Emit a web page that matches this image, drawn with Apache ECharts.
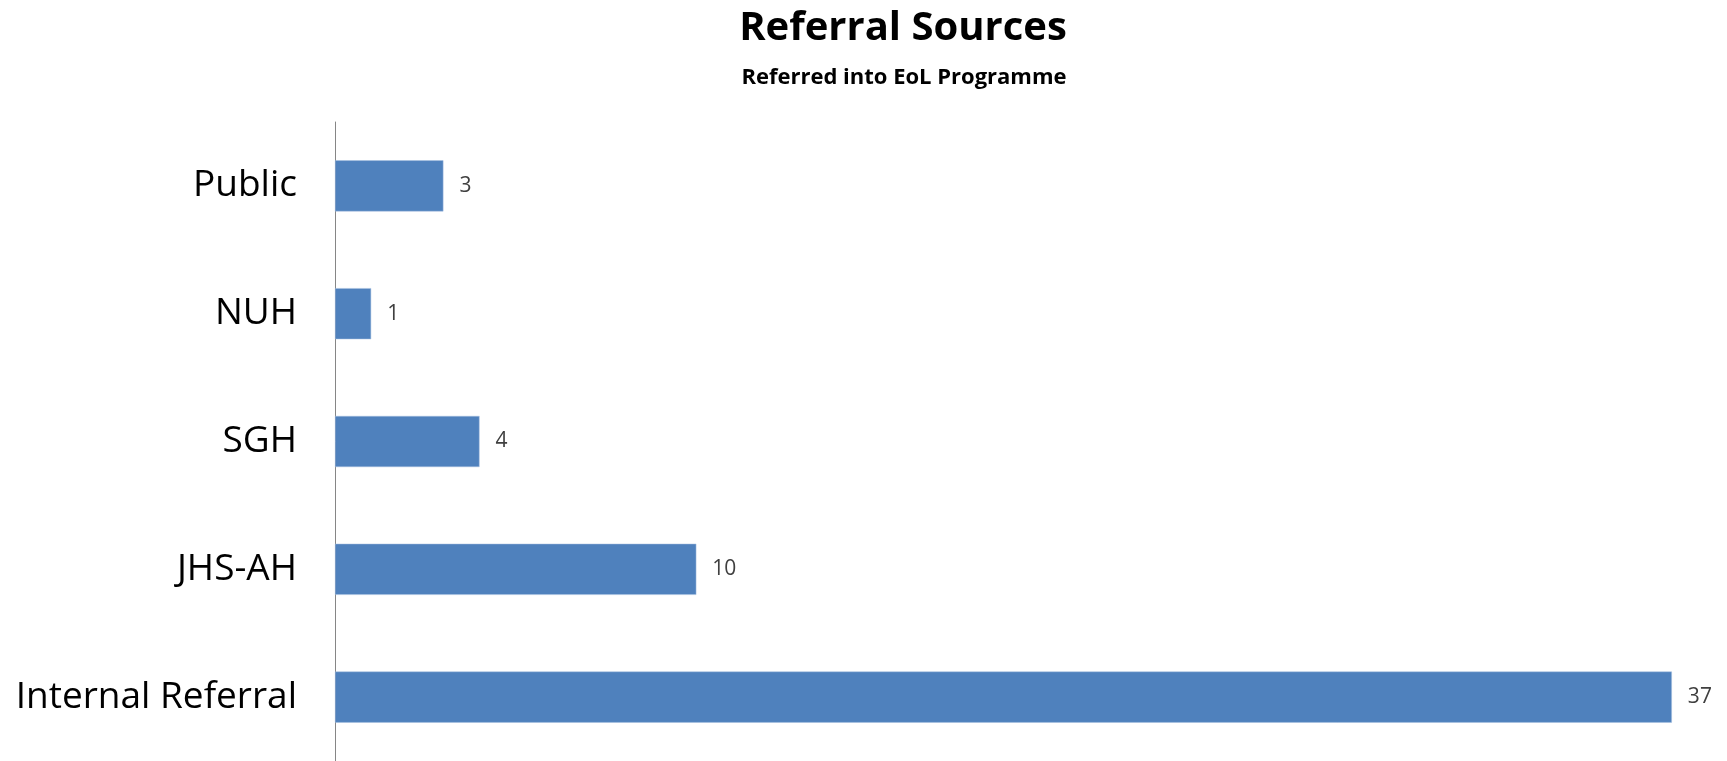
<!DOCTYPE html>
<html><head><meta charset="utf-8">
<script src="https://cdn.jsdelivr.net/npm/echarts@6/dist/echarts.min.js"></script>
<style>html,body{margin:0;padding:0;background:#fff}#c{width:1727px;height:761px}</style>
</head><body><div id="c"></div>
<script>
const categories = ["Internal Referral", "JHS-AH", "SGH", "NUH", "Public"];
const values = [37, 10, 4, 1, 3];
const titleText = "Referral Sources";
const subtitleText = "Referred into EoL Programme";

const chart = echarts.init(document.getElementById('c'));
chart.setOption({
  animation: false,
  title: [{
    text: titleText,
    left: 898, top: 4, textAlign: 'center',
    textStyle: {fontFamily: 'Open Sans', fontWeight: 'bold', fontSize: 40, color: '#000'}
  }, {
    text: subtitleText,
    left: 899, top: 62, textAlign: 'center',
    textStyle: {fontFamily: 'Open Sans', fontWeight: 'bold', fontSize: 22, color: '#000'}
  }],
  grid: {left: 335, top: 122, width: 1373, height: 641},
  xAxis: {type: 'value', min: 0, max: 38, show: false},
  yAxis: {
    type: 'category', data: categories,
    axisLine: {show: true, lineStyle: {color: '#868686', width: 1}},
    axisTick: {show: false},
    axisLabel: {fontFamily: 'Open Sans', fontSize: 37, color: '#000', margin: 38}
  },
  series: [{
    type: 'bar', data: values, barWidth: '40%',
    itemStyle: {color: '#4F81BD', borderColor: '#A8C1E0', borderWidth: 0.5},
    label: {show: true, position: 'right', distance: 16, fontFamily: 'Open Sans', fontSize: 21, color: '#404040'}
  }]
});
</script></body></html>
